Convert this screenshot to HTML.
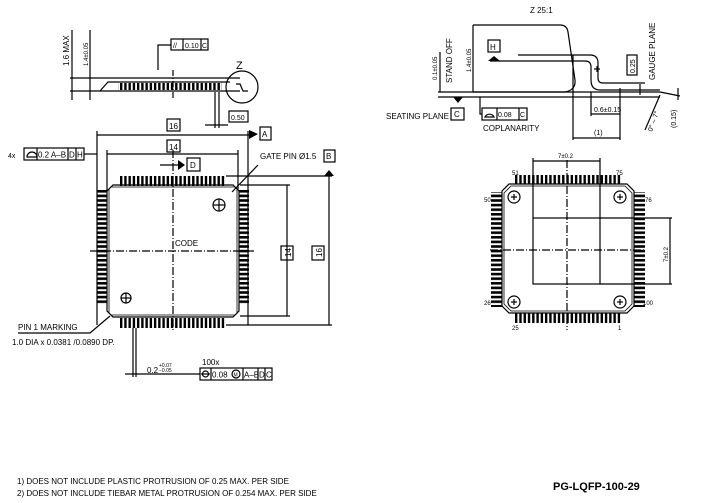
<!DOCTYPE html>
<html><head><style>
html,body{margin:0;padding:0;background:#fff;width:717px;height:503px;overflow:hidden}
svg{display:block}
text{font-family:"Liberation Sans",sans-serif;fill:#000}
</style></head><body>
<svg width="717" height="503" viewBox="0 0 717 503" xmlns="http://www.w3.org/2000/svg">
<defs>
<pattern id="ph" x="120" y="0" width="4.24" height="10" patternUnits="userSpaceOnUse"><rect x="0" y="0" width="2.4" height="10" fill="#000"/></pattern>
<pattern id="pv" x="0" y="190" width="10" height="4.6" patternUnits="userSpaceOnUse"><rect x="0" y="0" width="10" height="2.6" fill="#000"/></pattern>
<pattern id="ph2" x="515" y="0" width="4.28" height="10" patternUnits="userSpaceOnUse"><rect x="0" y="0" width="2.4" height="10" fill="#000"/></pattern>
<pattern id="pv2" x="0" y="190" width="10" height="4.6" patternUnits="userSpaceOnUse"><rect x="0" y="0" width="10" height="2.6" fill="#000"/></pattern>
</defs>
<g stroke="#000" stroke-width="1.2" fill="none">
<line x1="70" y1="78" x2="240" y2="78"/><line x1="70" y1="91" x2="240" y2="91"/>
<line x1="72" y1="30" x2="72" y2="100"/><line x1="90" y1="30" x2="90" y2="100"/>
<path d="M100 91 L108 82 L230 82"/>
<line x1="173" y1="70" x2="173" y2="100" stroke-dasharray="6 2 1 2"/>
<path d="M158 70 V45 H171"/>
<circle cx="242" cy="87" r="16"/>
<path d="M236 84 h4 l3 7 h5"/>
<line x1="215" y1="92" x2="215" y2="128"/><line x1="219" y1="92" x2="219" y2="128"/>
<line x1="205" y1="125" x2="228" y2="125"/>
<rect x="229" y="111" width="19" height="11"/>
<rect x="171" y="39" width="37" height="11"/><line x1="183" y1="39" x2="183" y2="50"/><line x1="201" y1="39" x2="201" y2="50"/>
<rect x="167" y="119" width="13" height="12"/>
<line x1="97" y1="135" x2="250" y2="135"/>
<line x1="97" y1="131" x2="97" y2="325"/><line x1="248" y1="131" x2="248" y2="325"/>
<rect x="260" y="127" width="11" height="13"/>
<rect x="167" y="140" width="13" height="12"/>
<line x1="107" y1="154" x2="238" y2="154"/>
<line x1="107" y1="150" x2="107" y2="190"/><line x1="238" y1="150" x2="238" y2="190"/>
<rect x="24" y="148" width="60" height="12"/>
<line x1="37" y1="148" x2="37" y2="160"/><line x1="68" y1="148" x2="68" y2="160"/><line x1="76" y1="148" x2="76" y2="160"/>
<line x1="84" y1="154" x2="97" y2="154"/>
<path d="M27 157 a5 5 0 0 1 10 0 z"/>
<line x1="160" y1="165" x2="178" y2="165"/>
<rect x="187" y="158" width="13" height="13"/>
<rect x="324" y="150" width="11" height="12"/>
<line x1="226" y1="176" x2="332" y2="176"/>
<line x1="329" y1="176" x2="329" y2="325"/>
<line x1="226" y1="325" x2="332" y2="325"/>
<rect x="312" y="246" width="12" height="14"/>
<line x1="240" y1="185" x2="290" y2="185"/><line x1="240" y1="316" x2="290" y2="316"/>
<line x1="287" y1="185" x2="287" y2="316"/>
<rect x="281" y="246" width="12" height="14"/>
<path d="M113 185 H233 L239 191 V311 L233 317 H113 L107 311 V191 Z"/>
<path d="M111 187 H235 L237 189 V313 L235 315 H111 L109 313 V189 Z" stroke-width="0.8"/>
<line x1="173" y1="150" x2="173" y2="330" stroke-dasharray="8 2 1 2"/>
<line x1="90" y1="251" x2="255" y2="251" stroke-dasharray="8 2 1 2"/>
<circle cx="219" cy="205" r="6"/><line x1="213" y1="205" x2="225" y2="205"/><line x1="219" y1="199" x2="219" y2="211"/>
<line x1="232" y1="192" x2="258" y2="165"/>
<circle cx="126" cy="298" r="5"/><line x1="121" y1="298" x2="131" y2="298"/><line x1="126" y1="293" x2="126" y2="303"/>
<path d="M110 316 L90 333 H18"/>
<line x1="133" y1="328" x2="133" y2="377"/><line x1="136" y1="328" x2="136" y2="377"/>
<line x1="125" y1="374" x2="200" y2="374"/>
<rect x="200" y="368" width="72" height="12"/>
<line x1="211" y1="368" x2="211" y2="380"/><line x1="243" y1="368" x2="243" y2="380"/><line x1="258" y1="368" x2="258" y2="380"/><line x1="265" y1="368" x2="265" y2="380"/>
<circle cx="205.5" cy="374" r="3"/><line x1="201" y1="374" x2="210" y2="374"/>
<circle cx="236" cy="374" r="4"/>
<path d="M473 25 H560 Q567 25 568 32 L575 80 Q576 90 565 92 H473"/>
<line x1="438" y1="92" x2="660" y2="92"/><line x1="438" y1="97" x2="660" y2="97"/>
<line x1="473" y1="25" x2="473" y2="92"/>
<line x1="440" y1="52" x2="440" y2="92"/>
<path d="M518 55 H590 Q598 55 598 63 V78 Q598 83 603 83 H645"/>
<path d="M490 61 H585 Q591 61 591 67 V80 Q591 90 600 90 H660"/>
<line x1="573" y1="55" x2="573" y2="140"/>
<line x1="620" y1="88" x2="620" y2="140"/>
<line x1="591" y1="92" x2="591" y2="116"/>
<line x1="573" y1="138" x2="620" y2="138"/>
<line x1="591" y1="114" x2="620" y2="114"/>
<rect x="488" y="40" width="12" height="12"/>
<rect x="451" y="108" width="13" height="12"/>
<path d="M480 97 V114 H482"/>
<rect x="482" y="108" width="45" height="12"/>
<line x1="497" y1="108" x2="497" y2="120"/><line x1="519" y1="108" x2="519" y2="120"/>
<path d="M485 117 a5 5 0 0 1 9 0 z"/>
<rect x="627" y="55" width="10" height="20"/>
<line x1="640" y1="84" x2="640" y2="95"/>
<line x1="660" y1="92" x2="680" y2="96"/><line x1="678" y1="88" x2="678" y2="100"/>
<line x1="645" y1="130" x2="660" y2="95"/>
<line x1="594" y1="69" x2="600" y2="69"/><line x1="597" y1="66" x2="597" y2="72"/>
<path d="M509 184 H627 L634 191 V306 L627 313 H509 L502 306 V191 Z"/>
<path d="M511 186 H625 L632 193 V304 L625 311 H511 L504 304 V193 Z" stroke-width="0.8"/>
<rect x="533" y="218" width="67" height="66"/>
<line x1="533" y1="158" x2="533" y2="218"/><line x1="600" y1="158" x2="600" y2="218"/>
<line x1="533" y1="161" x2="600" y2="161"/>
<line x1="600" y1="218" x2="672" y2="218"/><line x1="600" y1="284" x2="672" y2="284"/>
<line x1="670" y1="218" x2="670" y2="284"/>
<line x1="567" y1="160" x2="567" y2="330" stroke-dasharray="8 2 1 2"/>
<line x1="490" y1="250" x2="645" y2="250" stroke-dasharray="8 2 1 2"/>
<circle cx="514" cy="197" r="6"/><circle cx="620" cy="197" r="6"/><circle cx="514" cy="302" r="6"/><circle cx="620" cy="302" r="6"/>
<line x1="511" y1="197" x2="517" y2="197"/><line x1="514" y1="194" x2="514" y2="200"/>
<line x1="617" y1="197" x2="623" y2="197"/><line x1="620" y1="194" x2="620" y2="200"/>
<line x1="511" y1="302" x2="517" y2="302"/><line x1="514" y1="299" x2="514" y2="305"/>
<line x1="617" y1="302" x2="623" y2="302"/><line x1="620" y1="299" x2="620" y2="305"/>
</g>
<g fill="#000">
<polygon points="249,130 258,134 249,139"/>
<polygon points="178,160 185,165 178,170"/>
<polygon points="324,176 329,170 334,176"/>
<polygon points="453,97 458,103 463,97"/>
<polygon points="488,61 494,56 500,61"/>
<rect x="120" y="176" width="106" height="10" fill="url(#ph)"/>
<rect x="120" y="318" width="106" height="10" fill="url(#ph)"/>
<rect x="97" y="190" width="10" height="115" fill="url(#pv)"/>
<rect x="239" y="190" width="10" height="115" fill="url(#pv)"/>
<rect x="118" y="83" width="104" height="7" fill="url(#ph)"/>
<rect x="515" y="175" width="107" height="9" fill="url(#ph2)"/>
<rect x="515" y="313" width="107" height="10" fill="url(#ph2)"/>
<rect x="491" y="192" width="11" height="115" fill="url(#pv2)"/>
<rect x="634" y="192" width="11" height="115" fill="url(#pv2)"/>
</g>
<g font-size="8">
<text x="0" y="0" transform="translate(69,66) rotate(-90)">1.6 MAX</text>
<text x="0" y="0" transform="translate(88,66) rotate(-90)" font-size="6">1.4±0.05</text>
<text x="173" y="48" font-size="7">//</text><text x="185" y="48" font-size="7">0.10</text><text x="202" y="48" font-size="7">C</text>
<text x="236" y="69" font-size="11">Z</text>
<text x="231" y="120" font-size="7">0.50</text>
<text x="169" y="129" font-size="8">16</text>
<text x="169" y="150" font-size="8">14</text>
<text x="262" y="137" font-size="8">A</text>
<text x="8" y="158" font-size="7">4x</text>
<text x="38" y="157.5" font-size="8">0.2 A–B</text><text x="69" y="157.5" font-size="8">D</text><text x="77" y="157.5" font-size="8">H</text>
<text x="190" y="168" font-size="8">D</text>
<text x="260" y="159">GATE PIN Ø1.5</text>
<text x="326" y="159" font-size="8">B</text>
<text x="175" y="246">CODE</text>
<text x="0" y="0" transform="translate(291,257) rotate(-90)">14</text>
<text x="0" y="0" transform="translate(322,257) rotate(-90)">16</text>
<text x="18" y="330">PIN 1 MARKING</text>
<text x="12" y="345">1.0 DIA x 0.0381 /0.0890 DP.</text>
<text x="147" y="373">0.2</text><text x="159" y="367" font-size="5">+0.07</text><text x="159" y="372" font-size="5">−0.05</text>
<text x="202" y="365">100x</text>
<text x="212" y="377.5" font-size="8">0.08</text><text x="233.5" y="376.5" font-size="5">M</text><text x="244" y="377.5" font-size="8">A–B</text><text x="259" y="377.5" font-size="8">D</text><text x="266" y="377.5" font-size="8">C</text>
<text x="17" y="484">1) DOES NOT INCLUDE PLASTIC PROTRUSION OF 0.25 MAX. PER SIDE</text>
<text x="17" y="496">2) DOES NOT INCLUDE TIEBAR METAL PROTRUSION OF 0.254 MAX. PER SIDE</text>
<text x="553" y="490" font-size="11" font-weight="bold">PG-LQFP-100-29</text>
<text x="530" y="13">Z 25:1</text>
<text x="0" y="0" transform="translate(437,80) rotate(-90)" font-size="6">0.1±0.05</text>
<text x="0" y="0" transform="translate(452,83) rotate(-90)">STAND OFF</text>
<text x="0" y="0" transform="translate(471,72) rotate(-90)" font-size="6">1.4±0.05</text>
<text x="490" y="50" font-size="8">H</text>
<text x="386" y="119">SEATING PLANE</text>
<text x="454" y="117">C</text>
<text x="498" y="117" font-size="7">0.08</text><text x="520" y="117" font-size="7">C</text>
<text x="483" y="131">COPLANARITY</text>
<text x="0" y="0" transform="translate(635,73) rotate(-90)" font-size="7">0.25</text>
<text x="0" y="0" transform="translate(655,80) rotate(-90)">GAUGE PLANE</text>
<text x="594" y="112" font-size="7">0.6±0.15</text>
<text x="594" y="135" font-size="7">(1)</text>
<text x="0" y="0" transform="translate(652,132) rotate(-70)" font-size="7">0° – 7°</text>
<text x="0" y="0" transform="translate(676,128) rotate(-90)" font-size="7">(0.15)</text>
<text x="558" y="158" font-size="6">7±0.2</text>
<text x="0" y="0" transform="translate(668,262) rotate(-90)" font-size="6">7±0.2</text>
<text x="512" y="175" font-size="6">51</text><text x="616" y="175" font-size="6">75</text>
<text x="484" y="202" font-size="6">50</text><text x="645" y="202" font-size="6">76</text>
<text x="484" y="305" font-size="6">26</text><text x="643" y="305" font-size="6">100</text>
<text x="512" y="330" font-size="6">25</text><text x="618" y="330" font-size="6">1</text>
</g>
</svg>
</body></html>
